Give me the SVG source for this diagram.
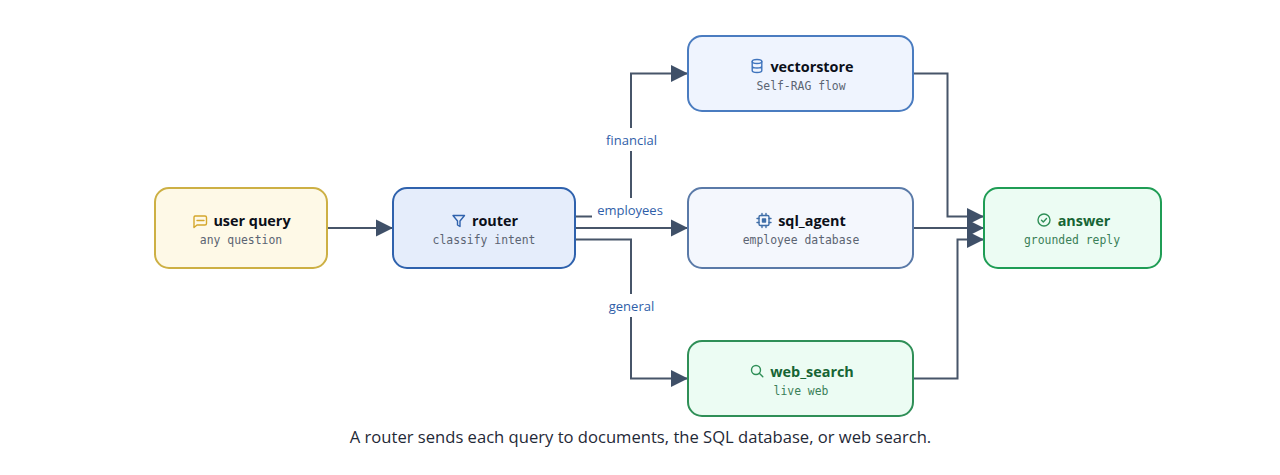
<svg xmlns="http://www.w3.org/2000/svg" width="1280" height="475" viewBox="0 0 1280 475">
<style>
.box{stroke-width:2}
.t{font-family:"Open Sans","Noto Sans",sans-serif;font-size:14.4px;font-weight:700;text-anchor:middle}
.s{font-family:"DejaVu Sans Mono","Liberation Mono",monospace;font-size:11.4px;text-anchor:middle;fill:#5b6472}
.l{font-family:"Open Sans","Noto Sans",sans-serif;font-size:13px;font-weight:500;text-anchor:middle;fill:#2f5ea8}
.c{fill:none;stroke:#475569;stroke-width:2}
.i{fill:none;stroke-width:1.4;stroke-linecap:round;stroke-linejoin:round}
.g .t{fill:#166534}.g .s{fill:#3a8058}
</style>
<defs><marker id="a" markerUnits="userSpaceOnUse" markerWidth="18" markerHeight="19" refX="17" refY="9" orient="auto"><path d="M0 0.500L17 9L0 17.500Z" fill="#3f5068"/></marker></defs>
<rect width="1280" height="475" fill="#fff"/>
<g id="connectors">
<path class="c" d="M327 228H393" marker-end="url(#a)"/>
<path class="c" d="M575 216.500H592M631 198V151M631 128V73.500H688" marker-end="url(#a)"/>
<path class="c" d="M575 228H688" marker-end="url(#a)"/>
<path class="c" d="M575 239.500H631V294M631 317V378.500H688" marker-end="url(#a)"/>
<path class="c" d="M913 73.500H947.500V216.500H984" marker-end="url(#a)"/>
<path class="c" d="M913 228H984" marker-end="url(#a)"/>
<path class="c" d="M913 378.500H957.500V239.500H984" marker-end="url(#a)"/>
<text class="l" x="631.500" y="145">financial</text>
<text class="l" x="630" y="215">employees</text>
<text class="l" x="631.500" y="311">general</text>
</g>
<g id="user_query">
<rect class="box" x="155" y="188" width="172" height="80" rx="14" fill="#fef9e7" stroke="#cdb044"/>
<path class="i" stroke="#d4a72c" d="M195 216h10a1.500 1.500 0 0 1 1.500 1.500v6a1.500 1.500 0 0 1-1.500 1.500h-8l-3 2.500v-10a1.500 1.500 0 0 1 1-1.500zM197 220.500h7"/>
<text class="t" x="252" y="226" fill="#0b0f19">user query</text>
<text class="s" x="241" y="244">any question</text>
</g>
<g id="router">
<rect class="box" x="393" y="188" width="182" height="80" rx="14" fill="#e5edfb" stroke="#2f62ad"/>
<path class="i" stroke="#2f62ad" d="M453 215.500h11.500l-4.500 5.500v5.500l-2.500-1.500v-4z"/>
<text class="t" x="495" y="226" fill="#0b0f19">router</text>
<text class="s" x="484" y="244">classify intent</text>
</g>
<g id="vectorstore">
<rect class="box" x="688" y="36" width="225" height="75" rx="14" fill="#eff4fe" stroke="#4a7cc0"/>
<g class="i" stroke="#3f74bd"><ellipse cx="757" cy="61.500" rx="4.800" ry="2"/><path d="M752.200 61.500v9c0 1.100 2.100 2 4.800 2s4.800-.9 4.800-2v-9M752.200 66c0 1.100 2.100 2 4.800 2s4.800-.9 4.800-2"/></g>
<text class="t" x="812" y="71.500" fill="#0b0f19">vectorstore</text>
<text class="s" x="801" y="90">Self-RAG flow</text>
</g>
<g id="sql_agent">
<rect class="box" x="688" y="188" width="225" height="80" rx="14" fill="#f4f7fd" stroke="#5a7aa8"/>
<g class="i" stroke="#3f6ea8"><rect x="759" y="215.500" width="10" height="10" rx="1.500"/><rect x="762.500" y="219" width="3" height="3" fill="#3f6ea8"/><path d="M762 213.500v2M766 213.500v2M762 225.500v2M766 225.500v2M757 218.500h2M757 222.500h2M769 218.500h2M769 222.500h2"/></g>
<text class="t" x="812" y="226" fill="#0b0f19">sql_agent</text>
<text class="s" x="801" y="244">employee database</text>
</g>
<g id="web_search" class="g">
<rect class="box" x="688" y="341" width="225" height="75" rx="14" fill="#ecfcf3" stroke="#2f8f57"/>
<g class="i" stroke="#2f8f57"><circle cx="756" cy="370" r="4.500"/><path d="M759.300 373.300l3.500 3.500"/></g>
<text class="t" x="812" y="376.500">web_search</text>
<text class="s" x="801" y="395">live web</text>
</g>
<g id="answer" class="g">
<rect class="box" x="984" y="188" width="177" height="80" rx="14" fill="#ecfcf3" stroke="#1f9d55"/>
<g class="i" stroke="#2f8f57"><circle cx="1044" cy="220" r="6"/><path d="M1041.500 220.200l1.800 1.800 3.200-3.400"/></g>
<text class="t" x="1084" y="226">answer</text>
<text class="s" x="1072" y="244">grounded reply</text>
</g>
<text x="640.500" y="443" font-family="'Open Sans','Noto Sans',sans-serif" font-size="16.600" text-anchor="middle" fill="#1f2937">A router sends each query to documents, the SQL database, or web search.</text>
</svg>
